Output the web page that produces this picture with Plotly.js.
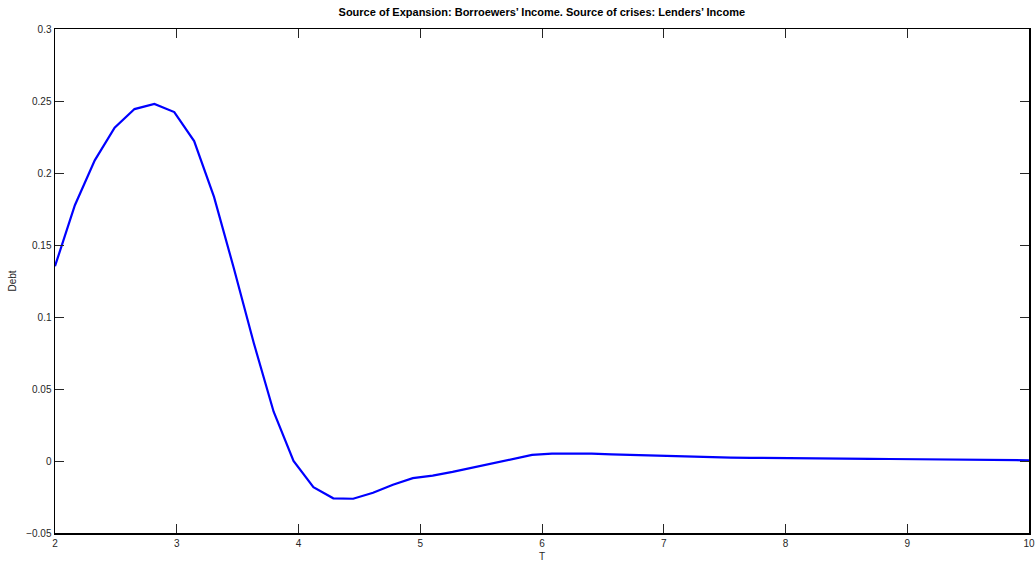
<!DOCTYPE html>
<html>
<head>
<meta charset="utf-8">
<script src="https://cdn.plot.ly/plotly-3.0.1.min.js"></script>
<style>html,body{margin:0;padding:0;background:#fff;}#chart{width:1036px;height:564px;}</style>
</head>
<body>
<div id="chart"></div>
<script>
// T = 50 evenly spaced points from 2 to 10 (step 8/49)
var tStart = 2, tEnd = 10, nPoints = 50;
var debt = [
  0.1353, 0.1776, 0.2088, 0.2315, 0.2444, 0.2479, 0.2423, 0.2222, 0.1834, 0.1337,
  0.0820, 0.0342, 0.0000, -0.0182, -0.0259, -0.0262, -0.0221, -0.0165, -0.0119, -0.0102,
  -0.0076, -0.0046, -0.0014, 0.0016, 0.0042, 0.0051, 0.0053, 0.0051, 0.0046, 0.0042,
  0.0036, 0.0031, 0.0028, 0.0026, 0.0024, 0.0022, 0.0020, 0.0019, 0.0018, 0.0017,
  0.0016, 0.0015, 0.0014, 0.0012, 0.0011, 0.0010, 0.0009, 0.0008, 0.0006, 0.0005
];
var T = [];
for (var i = 0; i < nPoints; i++) { T.push(tStart + i * (tEnd - tStart) / (nPoints - 1)); }

var titleText = "Source of Expansion: Borroewers\u2019 Income. Source of crises: Lenders\u2019 Income";
var xLabel = "T", yLabel = "Debt";
var xTicks = [2, 3, 4, 5, 6, 7, 8, 9, 10];
var yTicks = [-0.05, 0, 0.05, 0.1, 0.15, 0.2, 0.25, 0.3];

var font = {family: "Liberation Sans, Arial, Helvetica, sans-serif", size: 10, color: "#262626"};

Plotly.newPlot("chart", [{
  x: T, y: debt, type: "scatter", mode: "lines",
  line: {color: "#0000ff", width: 2.2}, hoverinfo: "x+y"
}], {
  width: 1036, height: 564,
  margin: {l: 55, r: 7, t: 28.5, b: 31, pad: 0},
  paper_bgcolor: "#ffffff", plot_bgcolor: "#ffffff",
  showlegend: false,
  font: font,
  title: {text: "<b>" + titleText + "</b>", x: 0.523, xanchor: "center", y: 0.978, yanchor: "middle",
          font: {family: "Liberation Sans, Arial, sans-serif", size: 11, color: "#000"}},
  xaxis: {
    range: [2, 10], tickmode: "array", tickvals: xTicks, ticktext: xTicks.map(String),
    ticks: "inside", ticklen: 9, tickwidth: 1, tickcolor: "#262626",
    showline: true, linecolor: "#000", linewidth: 1.5, mirror: "ticks",
    showgrid: false, zeroline: false, tickfont: font,
    title: {text: xLabel, font: font, standoff: 5}
  },
  yaxis: {
    range: [-0.05, 0.3], tickmode: "array", tickvals: yTicks,
    ticktext: yTicks.map(function(v){ return v < 0 ? "\u2212" + String(-v) : String(v); }),
    ticks: "inside", ticklen: 9, tickwidth: 1, tickcolor: "#262626",
    showline: true, linecolor: "#000", linewidth: 1.5, mirror: "ticks",
    showgrid: false, zeroline: false, tickfont: font,
    title: {text: yLabel, font: font, standoff: 7}
  }
}, {displayModeBar: false, staticPlot: true});
</script>
</body>
</html>
